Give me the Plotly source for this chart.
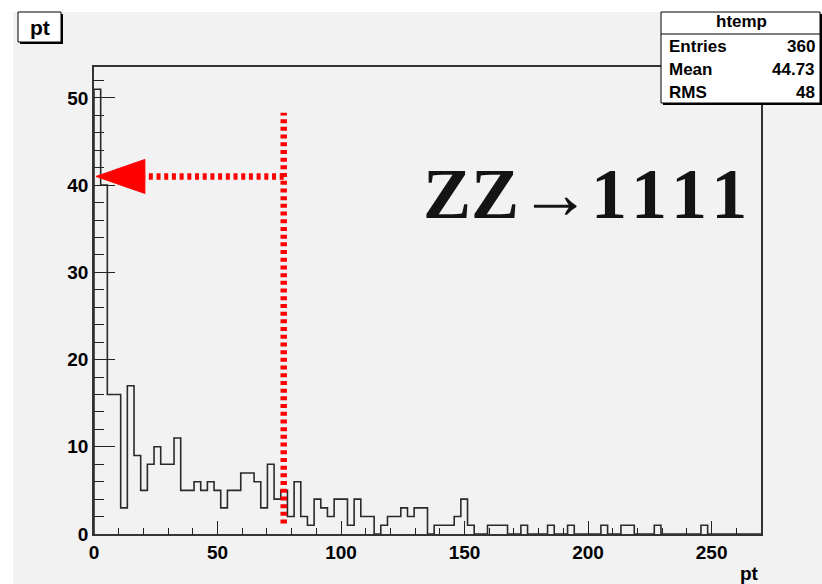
import numpy as np
import plotly.graph_objects as go

# pt histogram: 100 bins over [0, 270]
x_lo, x_hi, n_bins = 0.0, 270.0, 100
counts = [51, 40, 16, 16, 3, 17, 9, 5, 8, 10,
          8, 8, 11, 5, 5, 6, 5, 6, 5, 3,
          5, 5, 7, 7, 6, 3, 8, 4, 5, 2,
          6, 2, 1, 4, 3, 2, 4, 4, 1, 4,
          2, 2, 0, 1, 2, 2, 3, 2, 3, 3,
          0, 1, 1, 1, 2, 4, 1, 0, 0, 1,
          1, 1, 0, 0, 1, 0, 0, 0, 1, 0,
          0, 1, 0, 0, 0, 0, 1, 0, 0, 1,
          1, 0, 0, 0, 1, 0, 0, 0, 0, 0,
          0, 1, 0, 0, 0, 0, 0, 0, 0, 0]
x_ticks = [0, 50, 100, 150, 200, 250]
y_ticks = [0, 10, 20, 30, 40, 50]
stats_labels = ["Entries", "Mean", "RMS"]
stats_values = ["360", "44.73", "48"]
hist_name = "htemp"
var_name = "pt"
cut_value = 76.8      # vertical marker position in pt
cut_level = 41        # level the arrow points to

edges = np.linspace(x_lo, x_hi, n_bins + 1)
c = np.array(counts, dtype=float)
step_x = np.concatenate([[x_lo], edges[:-1], [x_hi, x_hi]])
step_y = np.concatenate([[0.0], c, [c[-1], 0.0]])
y_top = 1.05 * c.max()

# plot-area geometry in pixels
FW, FH = 822, 584
L, R, T, B = 94, 761, 67, 534
PW, PH = R - L, B - T

def fx(px):
    return (px - L) / PW

def fy(py):
    return (B - py) / PH

BG = "#f2f2f2"
FONT = "Liberation Sans"

fig = go.Figure()
fig.add_trace(go.Scatter(
    x=step_x, y=step_y, mode="lines", line_shape="hv",
    line=dict(color="#2a2a2a", width=1.6), hoverinfo="skip",
    showlegend=False, cliponaxis=True))

shapes = []
# white strips around the canvas
shapes.append(dict(type="rect", xref="paper", yref="paper", layer="below",
                   x0=fx(0), x1=fx(FW), y0=fy(12), y1=fy(0),
                   fillcolor="white", line=dict(width=0)))
shapes.append(dict(type="rect", xref="paper", yref="paper", layer="below",
                   x0=fx(0), x1=fx(13), y0=fy(FH), y1=fy(0),
                   fillcolor="white", line=dict(width=0)))

def pave(x0, y0, x1, y1):
    shapes.append(dict(type="rect", xref="paper", yref="paper", layer="above",
                       x0=fx(x0 + 2), x1=fx(x1 + 2), y0=fy(y1 + 2), y1=fy(y0 + 2),
                       fillcolor="black", line=dict(width=0)))
    shapes.append(dict(type="rect", xref="paper", yref="paper", layer="above",
                       x0=fx(x0), x1=fx(x1), y0=fy(y1), y1=fy(y0),
                       fillcolor="white", line=dict(color="black", width=1)))

# title pave and statistics box
pave(18, 12, 61, 42)
pave(661, 12, 820, 103)
shapes.append(dict(type="line", xref="paper", yref="paper", layer="above",
                   x0=fx(661), x1=fx(820), y0=fy(34), y1=fy(34),
                   line=dict(color="black", width=1)))

# red dotted marker with arrow
red = "#ff0000"
shapes.append(dict(type="line", xref="x", yref="y", layer="above",
                   x0=cut_value, x1=cut_value, y0=1.2, y1=48.3,
                   line=dict(color=red, width=6.5, dash="4px,3.7px")))
shapes.append(dict(type="line", xref="x", yref="y", layer="above",
                   x0=cut_value, x1=20.6, y0=cut_level, y1=cut_level,
                   line=dict(color=red, width=6.5, dash="4px,3.7px")))
shapes.append(dict(type="path", xref="x", yref="y", layer="above",
                   path=f"M 0.8,{cut_level} L 20.6,{cut_level + 1.95} L 20.6,{cut_level - 1.95} Z",
                   fillcolor=red, line=dict(color=red, width=1)))

ann = []
ann.append(dict(text=var_name, xref="paper", yref="paper", x=fx(39.5), y=fy(27),
                xanchor="center", yanchor="middle", showarrow=False,
                font=dict(family=FONT, size=21, color="black", weight="bold")))
ann.append(dict(text=hist_name, xref="paper", yref="paper", x=fx(741), y=fy(22),
                xanchor="center", yanchor="middle", showarrow=False,
                font=dict(family=FONT, size=17, color="black", weight="bold")))
for i, (lab, val) in enumerate(zip(stats_labels, stats_values)):
    yy = fy(46 + 23.5 * i)
    ann.append(dict(text=lab, xref="paper", yref="paper", x=fx(667), y=yy,
                    xanchor="left", yanchor="middle", showarrow=False,
                    font=dict(family=FONT, size=17, color="black", weight="bold")))
    ann.append(dict(text=val, xref="paper", yref="paper", x=fx(817), y=yy,
                    xanchor="right", yanchor="middle", showarrow=False,
                    font=dict(family=FONT, size=17, color="black", weight="bold")))
ann.append(dict(text=var_name, xref="paper", yref="paper", x=fx(761), y=fy(573),
                xanchor="right", yanchor="middle", showarrow=False,
                font=dict(family=FONT, size=19, color="black", weight="bold")))
# process label; the final-state digits are set with wider letter spacing
ann.append(dict(text="ZZ\u2192<span style=\"letter-spacing:8px\">1111</span>",
                xref="paper", yref="paper", x=fx(757), y=fy(194),
                xanchor="right", yanchor="middle", showarrow=False,
                font=dict(family="Liberation Serif", size=72, color="#141414",
                          weight="bold")))

axis_common = dict(showline=True, linecolor="#333333", linewidth=1.5, mirror=True,
                   ticks="inside", tickcolor="#222222", tickwidth=1.2,
                   showgrid=False, zeroline=False,
                   tickfont=dict(family=FONT, size=19, color="black", weight="bold"))

fig.update_layout(
    width=FW, height=FH,
    margin=dict(l=L, r=FW - R, t=T, b=FH - B, pad=0),
    paper_bgcolor=BG, plot_bgcolor=BG,
    shapes=shapes, annotations=ann,
    xaxis=dict(range=[x_lo, x_hi], tickvals=x_ticks, ticklen=13,
               minor=dict(dtick=10, tick0=0, ticklen=6, ticks="inside",
                          tickcolor="#222222", tickwidth=1.2, showgrid=False),
               **axis_common),
    yaxis=dict(range=[0, y_top], tickvals=y_ticks, ticklen=21,
               minor=dict(dtick=2, tick0=0, ticklen=10, ticks="inside",
                          tickcolor="#222222", tickwidth=1.2, showgrid=False),
               **axis_common),
)

fig.write_html("out.html")
